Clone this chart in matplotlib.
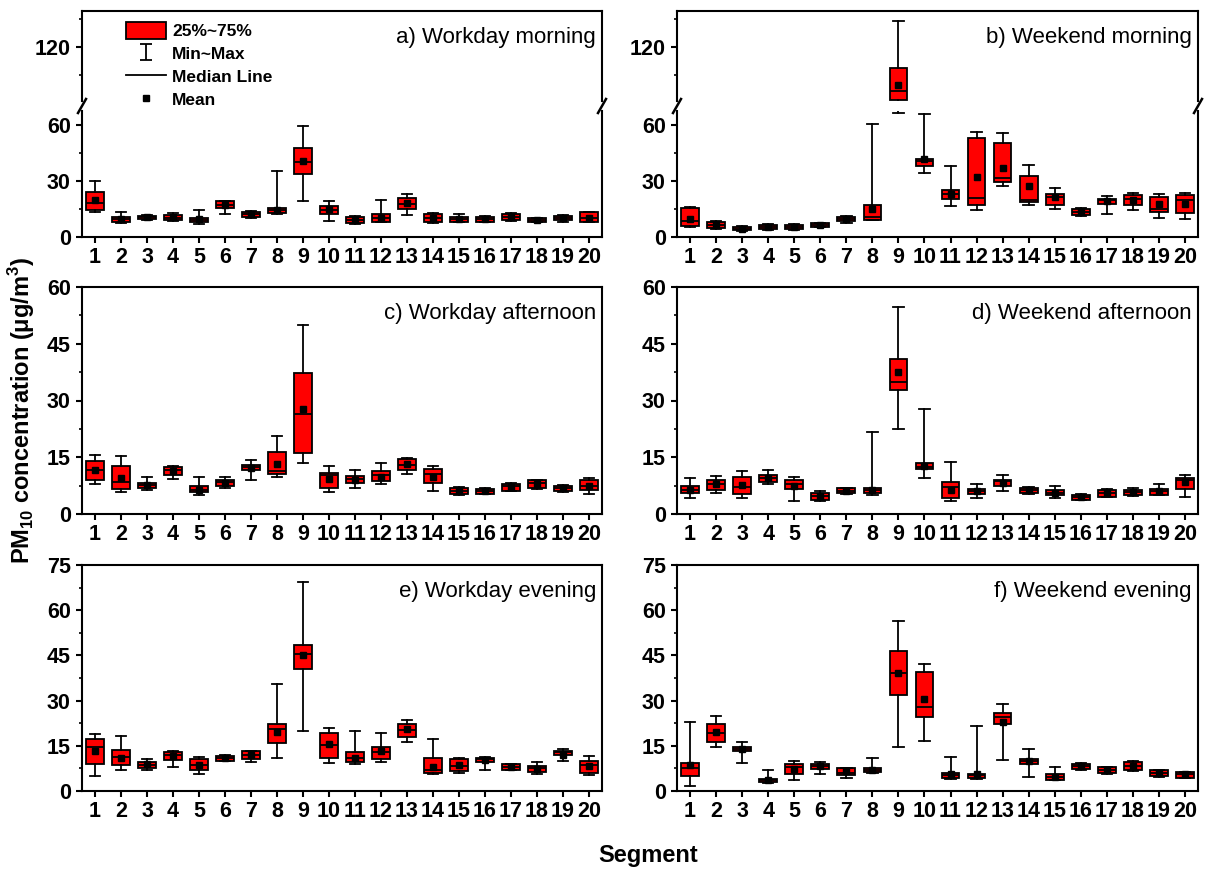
import matplotlib
matplotlib.use('Agg')
import matplotlib.pyplot as plt
from matplotlib.lines import Line2D
from matplotlib.patches import Patch
from matplotlib.path import Path
from matplotlib.ticker import MultipleLocator

plt.rcParams['font.family'] = ['Liberation Sans', 'DejaVu Sans']
plt.rcParams['font.weight'] = 'bold'
plt.rcParams['mathtext.fontset'] = 'custom'
plt.rcParams['mathtext.rm'] = 'Liberation Sans:bold'
plt.rcParams['mathtext.bf'] = 'Liberation Sans:bold'

segments = list(range(1, 21))

# a) Workday morning
wm_min = [13.3, 7.6, 9.0, 8.7, 7.1, 12.5, 10.4, 12.5, 19.1, 8.5, 6.9, 7.8, 11.8, 7.3, 7.8, 7.8, 8.7, 7.8, 7.8, 7.8]
wm_q1 = [14.5, 8.2, 9.5, 9.2, 7.8, 15.5, 10.8, 13.1, 34.0, 12.4, 7.3, 8.0, 15.1, 8.2, 8.0, 8.0, 9.1, 8.0, 9.1, 8.0]
wm_med = [18.2, 9.5, 10.5, 10.4, 9.1, 16.9, 12.4, 14.5, 40.0, 14.5, 9.1, 10.4, 17.8, 10.4, 9.6, 9.5, 10.9, 8.9, 10.4, 10.0]
wm_q3 = [24.2, 10.9, 11.5, 11.8, 10.4, 19.1, 13.6, 15.8, 47.6, 16.7, 10.9, 12.4, 20.9, 12.4, 10.9, 10.9, 12.4, 10.0, 11.5, 13.3]
wm_max = [30.0, 13.3, 12.0, 13.0, 14.5, 19.5, 13.8, 35.1, 59.6, 19.5, 11.0, 19.6, 23.1, 13.1, 12.4, 11.3, 12.7, 10.2, 11.7, 13.6]
wm_mean = [19.8, 9.6, 10.5, 10.5, 9.5, 17.0, 12.4, 14.5, 40.7, 15.1, 9.0, 10.4, 18.2, 10.4, 9.6, 9.5, 10.9, 8.9, 10.4, 10.0]

# b) Weekend morning
em_min = [5.5, 4.5, 3.3, 4.0, 4.0, 5.1, 7.3, 9.1, 66.4, 34.2, 16.4, 14.7, 27.3, 16.9, 15.1, 11.1, 12.4, 14.2, 10.2, 9.6]
em_q1 = [6.0, 4.8, 3.5, 4.2, 4.2, 5.3, 8.4, 9.3, 91.8, 37.8, 20.2, 17.3, 29.3, 18.7, 17.3, 11.8, 17.8, 17.3, 13.3, 12.7]
em_med = [8.7, 6.4, 4.5, 5.5, 5.5, 6.4, 9.6, 10.9, 96.7, 40.5, 23.3, 20.9, 31.5, 19.6, 21.5, 13.6, 19.6, 20.2, 15.1, 19.6]
em_q3 = [15.6, 7.8, 5.6, 6.5, 6.5, 7.5, 10.9, 16.9, 109.0, 42.0, 25.1, 53.3, 50.5, 32.9, 23.3, 15.1, 20.5, 22.4, 21.5, 22.4]
em_max = [16.0, 8.4, 5.8, 6.7, 6.7, 7.7, 11.5, 60.5, 134.2, 66.0, 37.8, 56.5, 55.6, 38.5, 26.4, 15.6, 22.0, 23.6, 22.9, 23.6]
em_mean = [9.6, 6.4, 4.5, 5.5, 5.5, 6.4, 9.6, 15.0, 99.6, 41.8, 23.3, 32.0, 36.9, 27.5, 21.5, 13.6, 19.3, 19.6, 17.5, 17.5]

# c) Workday afternoon
wa_min = [7.8, 5.8, 6.4, 9.3, 5.1, 6.8, 9.1, 9.8, 13.6, 5.8, 6.8, 7.8, 10.6, 6.0, 5.1, 5.2, 6.0, 6.7, 5.9, 5.3]
wa_q1 = [8.9, 6.7, 6.8, 10.2, 5.9, 7.3, 11.5, 10.6, 16.0, 6.8, 8.2, 8.6, 11.5, 8.2, 5.3, 5.3, 6.1, 6.8, 6.0, 6.4]
wa_med = [11.7, 8.4, 7.7, 11.5, 6.4, 8.4, 12.4, 11.4, 26.4, 10.2, 9.3, 10.4, 12.9, 10.6, 6.2, 6.0, 7.3, 8.2, 6.8, 7.4]
wa_q3 = [13.9, 12.6, 8.3, 12.4, 7.5, 9.1, 13.0, 16.4, 37.4, 10.9, 10.0, 11.3, 14.5, 12.0, 6.8, 6.7, 8.0, 8.9, 7.5, 8.9]
wa_max = [15.7, 15.3, 9.8, 12.6, 9.8, 9.9, 14.2, 20.6, 50.0, 12.6, 11.5, 13.6, 14.8, 12.7, 7.1, 6.8, 8.2, 9.1, 7.6, 9.6]
wa_mean = [11.7, 9.6, 7.7, 11.3, 6.4, 8.2, 12.2, 13.1, 27.8, 9.3, 9.1, 9.9, 13.1, 9.8, 6.2, 6.0, 7.1, 8.0, 6.8, 7.4]

# d) Weekend afternoon
ea_min = [4.2, 5.6, 4.2, 7.8, 3.5, 3.5, 5.3, 5.1, 22.4, 9.6, 3.5, 4.3, 6.2, 5.3, 4.2, 3.6, 4.5, 4.7, 4.9, 4.4]
ea_q1 = [5.5, 6.4, 5.3, 8.4, 6.5, 3.7, 5.6, 5.5, 32.8, 11.8, 4.2, 5.3, 7.4, 5.6, 4.9, 3.7, 4.6, 4.9, 5.1, 6.7]
ea_med = [6.4, 7.8, 7.1, 9.6, 7.8, 4.7, 6.2, 6.4, 34.9, 12.4, 7.1, 6.2, 8.6, 6.4, 5.6, 4.4, 5.6, 5.8, 6.0, 8.9]
ea_q3 = [7.4, 9.1, 9.8, 10.2, 8.9, 5.5, 6.8, 6.9, 41.0, 13.6, 8.4, 6.7, 9.1, 6.8, 6.4, 5.1, 6.4, 6.4, 6.5, 9.6]
ea_max = [9.5, 10.0, 11.3, 11.5, 9.8, 6.0, 6.9, 21.6, 54.7, 27.7, 13.8, 7.8, 10.2, 7.1, 7.3, 5.2, 6.5, 6.8, 8.0, 10.2]
ea_mean = [6.4, 8.0, 7.7, 9.6, 7.4, 4.7, 6.2, 6.4, 37.5, 12.6, 6.4, 6.2, 8.3, 6.4, 5.6, 4.4, 5.6, 5.8, 6.0, 8.4]

# e) Workday evening
we_min = [4.9, 7.1, 7.1, 8.0, 5.6, 9.9, 9.7, 11.1, 20.0, 9.3, 9.1, 9.7, 16.4, 5.8, 6.0, 7.1, 7.0, 5.8, 10.0, 5.2]
we_q1 = [9.1, 8.6, 7.7, 10.2, 6.9, 10.0, 10.6, 15.8, 40.6, 11.1, 9.7, 10.6, 18.0, 6.1, 6.6, 9.7, 7.1, 6.3, 11.9, 6.1]
we_med = [14.5, 11.3, 8.6, 11.9, 8.6, 10.8, 12.1, 20.5, 45.6, 15.2, 10.8, 12.8, 20.2, 7.1, 8.3, 10.5, 8.0, 7.5, 12.8, 8.6]
we_q3 = [17.1, 13.6, 9.7, 12.8, 10.6, 11.6, 13.2, 22.2, 48.6, 19.4, 12.8, 14.5, 22.1, 10.8, 10.6, 11.1, 8.9, 8.2, 13.2, 10.0]
we_max = [18.9, 18.2, 10.6, 13.2, 11.3, 12.1, 13.3, 35.6, 69.4, 20.8, 19.9, 19.1, 23.6, 17.2, 11.1, 11.3, 9.1, 9.5, 13.8, 11.6]
we_mean = [13.3, 11.1, 8.8, 11.6, 8.6, 10.8, 11.9, 19.5, 45.0, 15.5, 11.1, 13.3, 20.6, 8.0, 8.6, 10.2, 8.0, 7.2, 12.1, 8.3]

# f) Weekend evening
ee_min = [1.7, 14.7, 9.3, 2.8, 3.6, 5.8, 4.4, 6.0, 14.5, 16.6, 3.9, 3.9, 10.2, 4.7, 3.6, 7.1, 5.8, 6.6, 4.7, 4.3]
ee_q1 = [4.9, 16.1, 13.3, 3.0, 5.6, 7.2, 5.2, 6.3, 31.9, 24.5, 4.3, 4.3, 22.2, 8.9, 3.8, 7.2, 6.1, 6.9, 5.0, 4.4]
ee_med = [7.5, 19.1, 14.1, 3.6, 8.0, 8.2, 6.0, 7.1, 39.2, 28.0, 5.2, 5.2, 24.7, 9.9, 4.7, 8.3, 7.1, 8.3, 6.1, 5.5]
ee_q3 = [9.3, 22.1, 14.7, 4.1, 9.1, 9.1, 7.5, 7.7, 46.4, 39.4, 6.1, 5.8, 25.8, 10.6, 5.6, 9.1, 8.0, 9.7, 6.9, 6.3]
ee_max = [23.0, 24.9, 16.4, 7.1, 10.0, 9.5, 7.7, 10.8, 56.4, 42.3, 11.3, 21.7, 28.8, 13.8, 8.0, 9.2, 8.1, 9.9, 7.1, 6.4]
ee_mean = [8.5, 19.5, 13.8, 3.8, 7.2, 8.2, 6.6, 7.1, 39.2, 30.5, 5.5, 5.8, 22.8, 9.9, 4.7, 8.3, 7.1, 8.3, 6.1, 5.5]


def make_stats(lo, q1, med, q3, hi, mean):
    return [dict(label=str(s), whislo=a, q1=b, med=c, q3=d, whishi=e, mean=f, fliers=[])
            for s, a, b, c, d, e, f in zip(segments, lo, q1, med, q3, hi, mean)]


W, H = 1208, 871
fig = plt.figure(figsize=(W / 100, H / 100), dpi=100)


def px_axes(x0, y_top, x1, y_bot):
    return fig.add_axes([x0 / W, 1 - y_bot / H, (x1 - x0) / W, (y_bot - y_top) / H])


def draw_boxes(ax, stats):
    lw = 1.3
    ax.bxp(stats, positions=segments, widths=0.68, capwidths=0.4, patch_artist=True,
           showmeans=True, showfliers=False,
           boxprops=dict(facecolor='#ff0000', edgecolor='black', linewidth=lw),
           medianprops=dict(color='black', linewidth=lw),
           whiskerprops=dict(color='black', linewidth=lw),
           capprops=dict(color='black', linewidth=lw),
           meanprops=dict(marker='s', markerfacecolor='black', markeredgecolor='black', markersize=4.5))
    ax.set_xlim(0.5, 20.5)


def style(ax, major, minor):
    for sp in ax.spines.values():
        sp.set_linewidth(1.5)
    ax.yaxis.set_major_locator(MultipleLocator(major))
    ax.yaxis.set_minor_locator(MultipleLocator(minor))
    ax.tick_params(axis='both', which='major', direction='out', length=4, width=1.5, labelsize=15.5)
    ax.tick_params(axis='x', which='major', pad=3)
    ax.tick_params(axis='y', which='major', pad=4)
    ax.tick_params(axis='y', which='minor', direction='out', length=2.5, width=1.2)
    ax.tick_params(axis='x', which='minor', bottom=False)


def panel_title(ax, text):
    ax.annotate(text, xy=(1, 1), xycoords='axes fraction', xytext=(-6, -26),
                textcoords='offset pixels', ha='right', va='center',
                fontsize=16, fontweight='normal')


cols = [(82, 602), (677, 1198)]

# top row with broken axes
top_sets = [(make_stats(wm_min, wm_q1, wm_med, wm_q3, wm_max, wm_mean), 'a) Workday morning'),
            (make_stats(em_min, em_q1, em_med, em_q3, em_max, em_mean), 'b) Weekend morning')]
for (x0, x1), (stats, title) in zip(cols, top_sets):
    up = px_axes(x0, 11, x1, 101)
    lo = px_axes(x0, 111, x1, 237)
    draw_boxes(up, stats)
    draw_boxes(lo, stats)
    up.set_ylim(91.1, 139.3)
    lo.set_ylim(0, 67.5)
    style(up, 30, 15)
    style(lo, 30, 15)
    up.set_yticks([120])
    up.yaxis.set_minor_locator(MultipleLocator(15))
    up.spines['bottom'].set_visible(False)
    lo.spines['top'].set_visible(False)
    up.tick_params(axis='x', which='both', bottom=False, labelbottom=False)
    panel_title(up, title)
    for xs in (x0, x1):
        fig.add_artist(Line2D([(xs - 4) / W, (xs + 4) / W], [1 - 113 / H, 1 - 99 / H],
                              transform=fig.transFigure, color='black', lw=1.8))

# rows 2 and 3
lower_sets = [
    (287, 514, 60, [(make_stats(wa_min, wa_q1, wa_med, wa_q3, wa_max, wa_mean), 'c) Workday afternoon'),
                    (make_stats(ea_min, ea_q1, ea_med, ea_q3, ea_max, ea_mean), 'd) Weekend afternoon')]),
    (565, 791, 75, [(make_stats(we_min, we_q1, we_med, we_q3, we_max, we_mean), 'e) Workday evening'),
                    (make_stats(ee_min, ee_q1, ee_med, ee_q3, ee_max, ee_mean), 'f) Weekend evening')]),
]
for y_top, y_bot, ymax, sets in lower_sets:
    for (x0, x1), (stats, title) in zip(cols, sets):
        ax = px_axes(x0, y_top, x1, y_bot)
        draw_boxes(ax, stats)
        ax.set_ylim(0, ymax)
        style(ax, 15, 7.5)
        panel_title(ax, title)

# legend
box_h = Patch(facecolor='#ff0000', edgecolor='black', linewidth=1.3)
i_path = Path([(-0.75, 1), (0.75, 1), (0, 1), (0, -1), (-0.75, -1), (0.75, -1)],
              [Path.MOVETO, Path.LINETO, Path.MOVETO, Path.LINETO, Path.MOVETO, Path.LINETO])
minmax_h = Line2D([], [], linestyle='none', marker=i_path, markersize=12,
                  markeredgecolor='black', markerfacecolor='none', markeredgewidth=1.3)
median_h = Line2D([], [], color='black', lw=1.3)
mean_h = Line2D([], [], linestyle='none', marker='s', color='black', markersize=4.5)
fig.legend([box_h, minmax_h, median_h, mean_h], ['25%~75%', 'Min~Max', 'Median Line', 'Mean'],
           loc='upper left', bbox_to_anchor=(126 / W, 1 - 22 / H), frameon=False,
           prop=dict(size=12.5, weight='bold'), handlelength=2.3, handleheight=1.1,
           labelspacing=0.33, borderpad=0, borderaxespad=0, handletextpad=0.35)

fig.text(22 / W, 1 - 410 / H, r'PM$_{10}$ concentration (μg/m$^{3}$)', rotation=90,
         ha='center', va='center', fontsize=17, fontweight='bold')
fig.text(648 / W, 1 - 855 / H, 'Segment', ha='center', va='center', fontsize=17, fontweight='bold')

fig.savefig('out.png', dpi=100)
